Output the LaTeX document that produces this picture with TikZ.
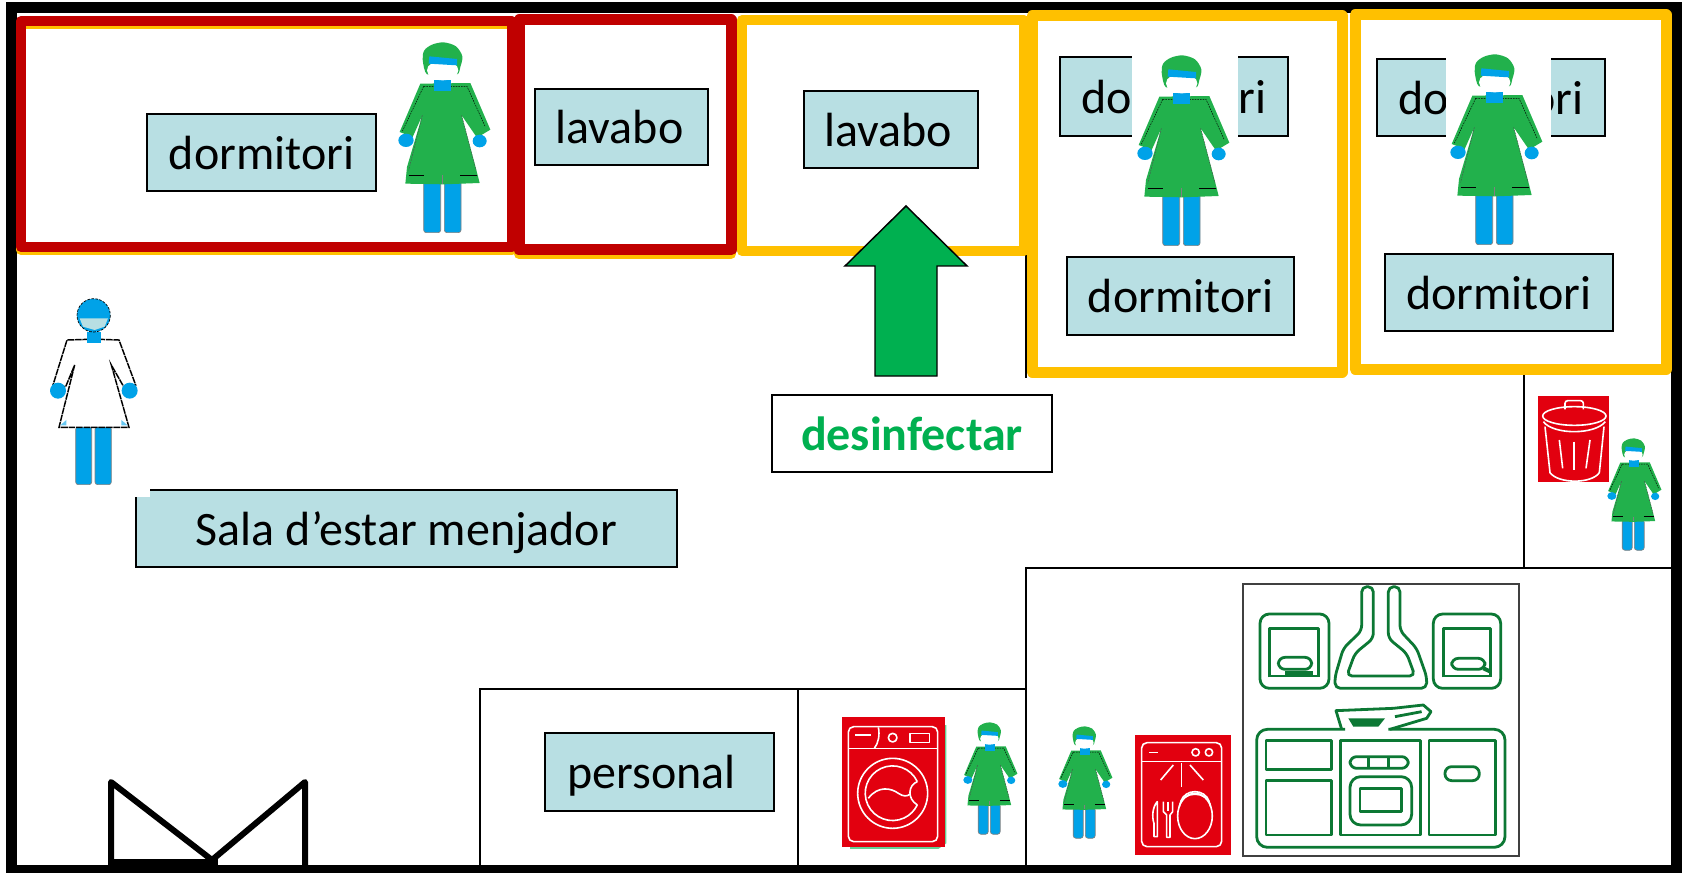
\documentclass[tikz,border=0pt]{standalone}
\usepackage{fontspec}
\setmainfont{Carlito}

\definecolor{roomorange}{RGB}{255,192,0}
\definecolor{roomred}{RGB}{192,0,0}
\definecolor{boxblue}{RGB}{184,223,227}
\definecolor{gowngreen}{RGB}{34,177,76}
\definecolor{skinblue}{RGB}{0,162,232}
\definecolor{arrowgreen}{RGB}{0,176,80}
\definecolor{kitchengreen}{RGB}{12,120,52}
\definecolor{iconred}{RGB}{226,0,15}

\tikzset{every picture/.style={line width=0.75pt}}
\tikzset{
  wall/.style={line width=1.9pt},
  orangeroom/.style={draw=roomorange,line width=7.5pt,line join=round},
  redroom/.style={draw=roomred,line width=7.5pt,line join=round},
  labelbox/.style={draw=black,line width=1.1pt,fill=boxblue},
  labeltext/.style={font=\fontsize{36}{40}\selectfont,text=black,text depth=0pt},
  iconline/.style={draw=white,line width=1.2pt,line join=round},
  kitchenline/.style={draw=kitchengreen,line width=2.1pt,line join=round},
  nurse/.pic={
    \begin{scope}[yscale=-1,shift={(-245,-350)}]
      %legs
      \draw [draw=gray,line width=0.5pt,fill=skinblue,rounded corners=2pt] (190,480) rectangle (241,637);
      \draw [draw=gray,line width=0.5pt,fill=skinblue,rounded corners=2pt] (252,480) rectangle (302,637);
      %gown
      \fill [gowngreen] (180,190) -- (330,188) -- (390,328) -- (350,352) -- (304,285) -- (347,445) -- (358,488) -- (250,492) -- (135,490) -- (140,440) -- (186,285) -- (157,350) -- (118,335) -- cycle;
      \draw [black,line width=0.35pt,dash pattern=on 1.2pt off 0.8pt] (190,198) -- (320,198) -- (375,320);
      \draw [black,line width=0.35pt,dash pattern=on 1.2pt off 0.8pt] (190,198) -- (125,335);
      \draw [black!70,line width=0.35pt,dash pattern=on 1.2pt off 0.8pt] (186,285) -- (145,450);
      \draw [black!70,line width=0.35pt,dash pattern=on 1.2pt off 0.8pt] (304,285) -- (347,450);
      \draw [black,line width=0.7pt] (145,465) -- (192,465);
      \draw [black,line width=0.7pt] (300,465) -- (350,465);
      \draw [gray,line width=0.6pt] (246,465) -- (246,490);
      %hands
      \fill [skinblue] (137,360) ellipse (23 and 20);
      \fill [skinblue] (358,362) ellipse (21 and 19);
      %neck
      \fill [skinblue] (222,178) rectangle (273,212);
      %hair, band and mask
      \fill [gowngreen] plot [smooth cycle] coordinates {(187,118) (192,90) (215,73) (250,66) (287,78) (306,108) (300,140) (290,162) (245,150) (200,162)};
      \fill [white] (247,150) ellipse (47 and 30);
      \fill [skinblue] (207,108) -- (290,116) -- (290,135) -- (205,130) -- cycle;
    \end{scope}
  },
  patient/.pic={
    \begin{scope}[yscale=-1,shift={(-190,-336)}]
      %legs
      \draw [draw=gray,line width=0.5pt,fill=skinblue,rounded corners=2pt] (138,440) rectangle (186,614);
      \draw [draw=gray,line width=0.5pt,fill=skinblue,rounded corners=2pt] (196,440) rectangle (245,614);
      %gown
      \draw [black,line width=1.1pt,dash pattern=on 5pt off 0.6pt,fill=white] (178,178) -- (112,180) -- (70,315) -- (108,320) -- (135,255) -- (88,442) -- (298,442) -- (245,255) -- (282,320) -- (318,315) -- (268,180) -- (208,178);
      \fill [skinblue!60] (92,436) -- (110,420) -- (110,436) -- cycle;
      \fill [skinblue!60] (294,436) -- (275,420) -- (275,436) -- cycle;
      %hands
      \fill [skinblue] (85,332) circle (24);
      \fill [skinblue] (300,332) circle (24);
      %neck and head
      \fill [skinblue] (172,155) rectangle (213,188);
      \draw [black,line width=0.5pt,dash pattern=on 2pt off 1pt,fill=skinblue] (192,106) circle (50);
      \fill [boxblue] (150,115) -- (235,115) -- (225,140) -- (195,150) -- (160,140) -- cycle;
    \end{scope}
  }
}

\begin{document}
\begin{tikzpicture}[x=0.75pt,y=0.75pt,yscale=-1,xscale=1]
	\useasboundingbox (0,0) rectangle (1683,873);
	\fill [white] (0,0) rectangle (1683,873);

	%Straight Lines: outer walls
	\draw [line width=8.25pt] (11.5,8) rectangle (1676.5,870.5);
	%Straight Lines: inner walls
	\draw [wall] (1026,255) -- (1026,378);
	\draw [wall] (1026,865) -- (1026,568) -- (1671,568);
	\draw [wall] (1524,372) -- (1524,568);
	\draw [wall] (480,865) -- (480,689) -- (1026,689);
	\draw [wall] (798,689) -- (798,865);
	%Straight Lines: door
	\draw [line width=4.5pt,line join=round,line cap=round] (111,865) -- (111,782) -- (212,860) -- (305,782) -- (305,865);
	\draw [line width=4.5pt] (111,862) -- (218,862);

	%Shape: Rectangle, rooms
	\draw [orangeroom] (21,24) rectangle (512,250);
	\draw [orangeroom] (519,20) rectangle (731,254);
	\draw [orangeroom] (742,20) rectangle (1024,251);
	\draw [orangeroom,line width=8.25pt] (1032,16) rectangle (1342,372);
	\draw [orangeroom,line width=8.25pt] (1355,15) rectangle (1666,369);
	\draw [redroom] (21,21) rectangle (512,247);
	\draw [redroom,line width=8.25pt] (519,20) rectangle (731,250);

	% Text Node
	\draw [labelbox] (147,114) rectangle (376,191) node [midway,labeltext] (dormRed) {dormitori};
	\draw [labelbox] (535,89) rectangle (708,165) node [midway,labeltext,xshift=-1.5pt] (lavaboRed) {lavabo};
	\draw [labelbox] (804,91) rectangle (978,168) node [midway,labeltext,xshift=-2.2pt] (lavaboOrange) {lavabo};
	\draw [labelbox] (1060,57) rectangle (1288,136) node [midway,labeltext] (dormUpperA) {dormitori};
	\draw [labelbox] (1067,257) rectangle (1294,335) node [midway,labeltext] (dormLowerA) {dormitori};
	\draw [labelbox] (1377,59) rectangle (1605,136) node [midway,labeltext] (dormUpperB) {dormitori};
	\draw [labelbox] (1385,254) rectangle (1613,331) node [midway,labeltext] (dormLowerB) {dormitori};
	\draw [labelbox] (136,490) rectangle (677,567) node [midway,labeltext] (sala) {Sala d’estar menjador};
	\draw [labelbox] (545,733) rectangle (774,811) node [midway,labeltext,xshift=-6pt] (personal) {personal};
	\draw [draw=black,line width=1.1pt,fill=white] (772,395) rectangle (1052,472) node [midway,font=\fontsize{36}{40}\selectfont\bfseries,text=arrowgreen] (desinfectar) {desinfectar};

	%Shape: Rectangle, white behind the figures
	\fill [white] (1132,50) rectangle (1238,140);
	\fill [white] (1446,50) rectangle (1551,140);
	\fill [white] (130,484) rectangle (150,497);

	%Shape: Arrow
	\draw [black,line width=1.1pt,fill=arrowgreen] (906,206) -- (967,266) -- (937,266) -- (937,376) -- (875,376) -- (875,266) -- (845,266) -- cycle;

	%Figures
	\pic [scale=0.3333] at (442,137) {nurse};
	\pic [scale=0.3333] at (1181,150) {nurse};
	\pic [scale=0.3333] at (1494,149) {nurse};
	\pic [scale=0.196] at (1633,494) {nurse};
	\pic [scale=0.196] at (989,778) {nurse};
	\pic [scale=0.196] at (1084,782) {nurse};
	\pic [scale=0.3333] at (93,392) {patient};

	%Washing machine and dishwasher
	\begin{scope}[shift={(820,700)},scale=0.3333]
		\fill [arrowgreen!60] (90,75) -- (379,75) -- (379,430) -- (355,447) -- (90,447) -- cycle;
		\fill [iconred] (65,50) rectangle (375,440);
		\draw [iconline,rounded corners=4pt] (85,80) rectangle (353,425);
		\draw [iconline] (85,145) -- (353,145);
		\draw [iconline] (175,82) .. controls (180,105) and (175,130) .. (163,145);
		\draw [iconline] (105,105) -- (152,105);
		\draw [iconline] (218,113) circle (13);
		\draw [iconline] (270,100) rectangle (328,127);
		\draw [iconline] (218,280) circle (105);
		\draw [iconline] (292,245) arc [start angle=-25,end angle=-335,radius=82];
		\draw [iconline] (292,245) .. controls (265,255) and (260,295) .. (292,315);
		\draw [iconline] (145,295) .. controls (175,255) and (215,265) .. (235,280) .. controls (250,290) and (262,290) .. (270,282);

		\fill [iconred] (945,105) rectangle (1232,465);
		\draw [iconline,rounded corners=4pt] (965,128) rectangle (1205,440);
		\draw [iconline] (965,185) -- (1205,185);
		\draw [iconline] (987,157) -- (1015,157);
		\draw [iconline] (1127,157) circle (11);
		\draw [iconline] (1167,157) circle (11);
		\draw [iconline] (1085,190) -- (1085,262);
		\draw [iconline] (1060,195) -- (1022,240);
		\draw [iconline] (1110,195) -- (1150,240);
		\draw [iconline] (1125,348) ellipse (52 and 68);
		\draw [iconline] (1078,320) .. controls (1085,270) and (1165,270) .. (1172,320);
		\draw [iconline] (1082,305) .. controls (1095,265) and (1155,265) .. (1168,305);
		\draw [iconline] (1012,410) -- (1012,305) .. controls (998,320) and (995,350) .. (1002,370) -- (1002,410) -- cycle;
		\draw [iconline] (1030,305) -- (1030,335) -- (1040,345) -- (1040,412) -- (1050,412) -- (1050,345) -- (1058,335) -- (1058,305);
		\draw [iconline] (1044,305) -- (1044,332);
	\end{scope}

	%Bin
	\begin{scope}[shift={(1500,380)},scale=0.3333]
		\fill [iconred] (115,48) rectangle (327,307);
		\draw [iconline] (223,108) ellipse (95 and 28);
		\draw [iconline] (130,125) .. controls (160,165) and (285,165) .. (316,125);
		\draw [iconline,rounded corners=2pt] (195,88) -- (195,62) -- (250,62) -- (250,88);
		\draw [iconline] (135,140) -- (150,278) .. controls (175,312) and (275,312) .. (298,278) -- (312,140);
		\draw [iconline] (178,180) -- (188,265);
		\draw [iconline] (222,185) -- (222,270);
		\draw [iconline] (270,180) -- (258,265);
	\end{scope}

	%Kitchen
	\draw [line width=1.9pt,draw=black!75] (1243,584) rectangle (1519,856);
	\begin{scope}[shift={(1230,570)},scale=0.3333]
		\draw [kitchenline,rounded corners=7pt] (90,132) rectangle (297,355);
		\draw [kitchenline] (118,322) -- (118,175) -- (265,175) -- (265,322);
		\draw [kitchenline] (118,318) -- (265,318);
		\draw [kitchenline,rounded corners=5pt] (145,262) rectangle (245,298);
		\draw [kitchenline,line width=3pt] (165,308) -- (250,308);
		\draw [kitchenline,rounded corners=7pt] (610,132) rectangle (812,355);
		\draw [kitchenline] (640,322) -- (640,175) -- (782,175) -- (782,322);
		\draw [kitchenline] (640,318) -- (782,318);
		\draw [kitchenline,rounded corners=5pt] (665,265) rectangle (765,298);
		\draw [kitchenline,line width=3pt] (760,295) -- (782,305);
		\draw [kitchenline,rounded corners=4pt] (395,50) -- (395,182) -- (340,235) -- (315,320) -- (315,355) -- (590,355) -- (590,320) -- (560,235) -- (510,182) -- (510,50) -- (475,50) -- (475,205) -- (530,250) -- (555,318) -- (350,318) -- (375,250) -- (430,205) -- (430,50) -- cycle;
		\draw [kitchenline] (335,478) -- (318,422) -- (490,415) -- (580,405) -- (603,425) -- (590,445) -- (480,478);
		\fill [kitchengreen] (355,445) -- (465,445) -- (445,470) -- (370,470) -- cycle;
		\draw [kitchenline] (495,440) -- (575,425);
		\draw [kitchenline,rounded corners=8pt] (345,478) -- (80,478) -- (80,832) -- (825,832) -- (825,478) -- (475,478);
		\draw [kitchenline] (108,512) rectangle (305,598);
		\draw [kitchenline] (108,632) rectangle (305,795);
		\draw [kitchenline] (332,512) rectangle (572,795);
		\draw [kitchenline] (597,512) rectangle (797,795);
		\draw [kitchenline,rounded corners=5pt] (360,560) rectangle (535,595);
		\draw [kitchenline] (415,560) -- (415,595);
		\draw [kitchenline] (475,560) -- (475,595);
		\draw [kitchenline,rounded corners=8pt] (360,620) rectangle (545,765);
		\draw [kitchenline] (390,655) rectangle (515,725);
		\draw [kitchenline,rounded corners=5pt] (645,590) rectangle (748,632);
	\end{scope}

\end{tikzpicture}
\end{document}
